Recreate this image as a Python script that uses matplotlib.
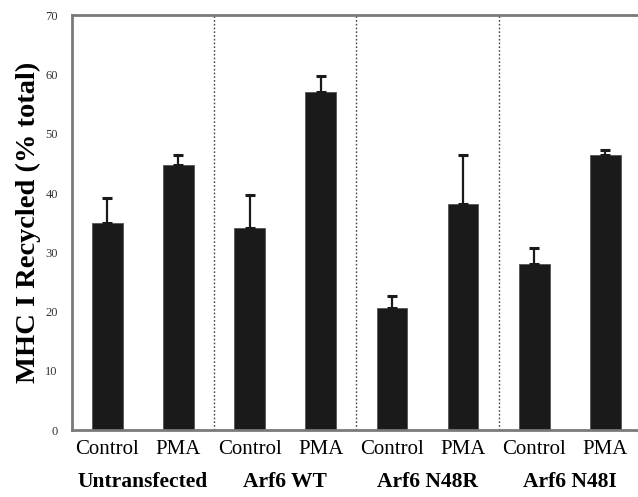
import matplotlib.pyplot as plt
import numpy as np

groups = ["Untransfected", "Arf6 WT", "Arf6 N48R", "Arf6 N48I"]
conditions = ["Control", "PMA"]
values = [35.0, 44.7, 34.1, 57.0, 20.6, 38.1, 28.1, 46.5]
err_top = [39.2, 46.5, 39.7, 59.7, 22.7, 46.5, 30.8, 47.2]
y_ticks = [0, 10, 20, 30, 40, 50, 60, 70]

plt.rcParams["font.family"] = ["Liberation Serif", "DejaVu Serif"]

fig = plt.figure(figsize=(6.38, 4.97), dpi=100)
ax = fig.add_axes([0.1124, 0.1348, 0.8923, 0.8344])

x = np.arange(len(values)) + 0.5
vals = np.array(values)
errs = np.array(err_top) - vals
ax.bar(x, vals, width=0.43, color="#1a1a1a", edgecolor="#555555", linewidth=0.6, zorder=2)
ax.errorbar(x, vals, yerr=[np.zeros_like(errs), errs], fmt="none", ecolor="#1a1a1a",
            elinewidth=1.6, capsize=3.5, capthick=2.2, zorder=3)

# dotted separators between cell-type groups
for d in range(2, 2 * len(groups), 2):
    ax.axvline(d, color="#444444", lw=1.0, linestyle=(0, (1.2, 1.5)), zorder=1)

ax.set_xlim(0, 2 * len(groups))
ax.set_ylim(0, 70)
ax.set_yticks(y_ticks)
ax.set_yticklabels([str(t) for t in y_ticks], fontsize=9, color="#333333")
ax.tick_params(axis="y", length=0, pad=10)
ax.set_xticks(x)
ax.set_xticklabels(conditions * len(groups), fontsize=15)
ax.tick_params(axis="x", length=0, pad=7)

for s in ax.spines.values():
    s.set_color("#7a7a7a")
    s.set_linewidth(2.0)

for i, g in enumerate(groups):
    ax.text(2 * i + 1, -0.126, g, transform=ax.get_xaxis_transform(),
            ha="center", va="center", fontsize=15.5, fontweight="bold")

ax.set_ylabel("MHC I Recycled (% total)", fontsize=20.5, fontweight="bold", labelpad=3)

fig.savefig("out.png", dpi=100)
